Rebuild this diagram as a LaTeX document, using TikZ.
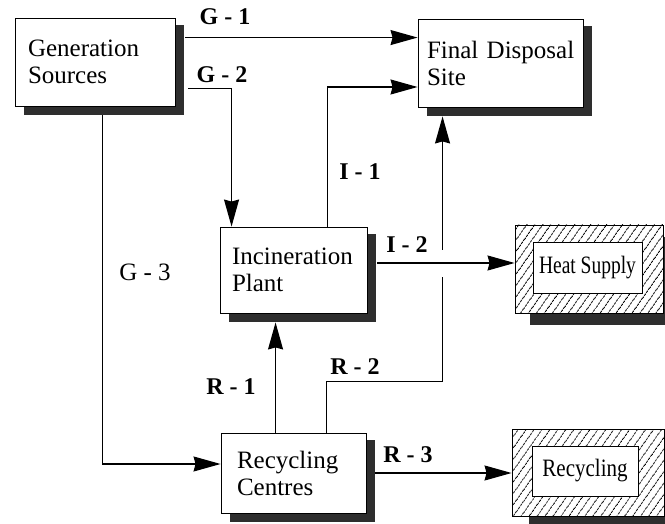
\documentclass[tikz,border=0pt]{standalone}
\usepackage{fontspec}
\setmainfont{Liberation Serif}
\usetikzlibrary{arrows.meta,patterns.meta,backgrounds}
\begin{document}
\begin{tikzpicture}[x=1pt,y=-1pt,
  box/.style={draw, line width=0.9pt, fill=white, font=\fontsize{25}{27}\selectfont, align=left, inner ysep=0pt},
  lab/.style={font=\fontsize{24}{26}\selectfont\bfseries},
  arr/.style={line width=1.2pt, -{Stealth[length=27pt,width=15pt,inset=2pt]}},
  shd/.style={fill=black!82},
  hatch/.style={draw, line width=0.9pt, preaction={fill=white}, pattern={Lines[angle=55,distance=6.5pt,line width=0.9pt]}},
]
\useasboundingbox (0,0) rectangle (665,524);

% boxes
\node[box, text width=134pt, inner xsep=13pt, minimum height=88pt] (gen) at (95,62) {Generation\\Sources};
\node[box, text width=147pt, inner xsep=9pt, minimum height=88pt] (fds) at (500.5,63) {\mbox{Final Disposal}\\Site};
\node[box, text width=123pt, inner xsep=12pt, minimum height=86pt] (inc) at (293.5,270) {\mbox{Incineration}\\Plant};
\node[box, text width=113pt, inner xsep=16pt, minimum height=80pt] (rc) at (293.5,473) {Recycling\\Centres};

\node[hatch, minimum width=148pt, minimum height=88pt, inner sep=0pt] (hs) at (589,269) {};
\node[box, align=center, minimum width=109pt, minimum height=51pt, inner sep=0pt] (hsin) at (587.5,267.5) {\scalebox{0.78}[1]{Heat Supply}};
\node[hatch, minimum width=152pt, minimum height=87pt, inner sep=0pt] (rcy) at (588,472.5) {};
\node[box, align=center, minimum width=106pt, minimum height=50pt, inner sep=0pt] (rcyin) at (585,471) {\scalebox{0.84}[1]{Recycling}};

% shadows
\begin{scope}[on background layer]
  \foreach \n in {gen,fds,inc,rc}
    \fill[shd] ([shift={(9pt,-7pt)}]\n.north west) rectangle ([shift={(9pt,-9pt)}]\n.south east);
  \fill[shd] ([shift={(15pt,-12pt)}]hs.north west) rectangle ([shift={(15pt,-12pt)}]hs.south east);
  \fill[shd] ([shift={(17pt,-8pt)}]rcy.north west) rectangle ([shift={(17pt,-8pt)}]rcy.south east);
\end{scope}

% connector end points
\coordinate (g1s) at ([shift={(10pt,-20pt)}]gen.north east);
\coordinate (g2s) at ([shift={(13pt,18pt)}]gen.south east);
\coordinate (g2e) at ([xshift=12pt]inc.north west);
\coordinate (g3s) at ([shift={(88pt,-9pt)}]gen.south west);
\coordinate (g3e) at ([yshift=9pt]rc.west);
\coordinate (i1s) at ([xshift=108pt]inc.north west);
\coordinate (i1e) at ([yshift=-24pt]fds.west);
\coordinate (i2s) at ([shift={(10pt,7pt)}]inc.east);
\coordinate (r1s) at ([xshift=55pt]rc.north west);
\coordinate (incsb) at ([yshift=-9pt]inc.south);
\coordinate (r2s) at ([xshift=106pt]rc.north west);
\coordinate (r2e) at ([shift={(25pt,-9pt)}]fds.south west);
\coordinate (r3s) at ([xshift=9pt]rc.east);
\coordinate (cross) at (r2e |- i2s);

% connectors
\draw[arr] (g1s) -- (g1s -| fds.west);
\draw[arr] (g2s) -| (g2e);
\draw[arr] (g3s) |- (g3e);
\draw[arr] (i1s) |- (i1e);
\draw[arr] (r1s) -- (r1s |- incsb);
\draw[arr] (r2s) -- ++(0,-51) -| (r2e);
\fill[white] ([shift={(-3pt,13pt)}]cross) rectangle ([shift={(3pt,-14pt)}]cross);
\draw[arr] (i2s) -- (i2s -| hs.west);
\draw[arr] (r3s) -- (r3s -| rcy.west);

% labels
\node[lab] (lg1) at (225,17) {G - 1};
\node[lab] (lg2) at (222,75) {G - 2};
\node[lab, font=\fontsize{25}{27}\selectfont] (lg3) at (145,272) {G - 3};
\node[lab] (li1) at (360,172) {I - 1};
\node[lab] (li2) at (407,245) {I - 2};
\node[lab] (lr1) at (231,387) {R - 1};
\node[lab] (lr2) at (355,367) {R - 2};
\node[lab] (lr3) at (408,455) {R - 3};
\end{tikzpicture}
\end{document}
